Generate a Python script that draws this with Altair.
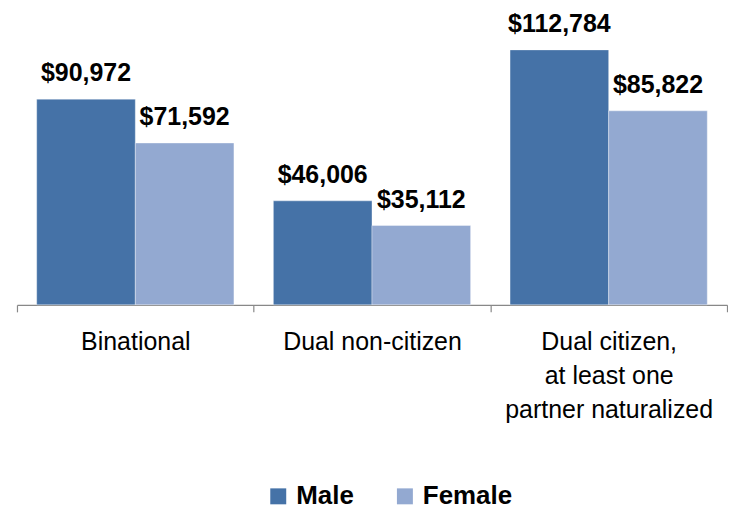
import altair as alt
import pandas as pd

categories = ["Binational", "Dual non-citizen", "Dual citizen,\nat least one\npartner naturalized"]
series = ["Male", "Female"]
male_values = [90972, 46006, 112784]
female_values = [71592, 35112, 85822]
colors = ["#4572A7", "#93A9D1"]

rows = []
for c, m, f in zip(categories, male_values, female_values):
    rows.append({"Category": c, "Sex": "Male", "Income": m})
    rows.append({"Category": c, "Sex": "Female", "Income": f})
df = pd.DataFrame(rows)

FONT = "Liberation Sans"

x = alt.X(
    "Category:N",
    sort=categories,
    scale=alt.Scale(paddingInner=0, paddingOuter=0),
    axis=alt.Axis(
        title=None,
        labelExpr="split(datum.label, '\\n')",
        labelAngle=0,
        labelLimit=0,
        labelFont=FONT,
        labelFontSize=25,
        labelColor="#000000",
        labelPadding=18,
        labelLineHeight=34,
        tickBand="extent",
        tickSize=7,
        tickColor="#888888",
        domainColor="#888888",
        domainWidth=1.2,
        tickWidth=1.2,
    ),
)
xoff = alt.XOffset("Sex:N", sort=series, scale=alt.Scale(paddingInner=0, paddingOuter=0.2))
y = alt.Y("Income:Q", scale=alt.Scale(domain=[0, 131000]), axis=None)

bars = alt.Chart(df).mark_bar(stroke="#FFFFFF", strokeWidth=0.6, strokeOpacity=0.6).encode(
    x=x,
    xOffset=xoff,
    y=y,
    color=alt.Color(
        "Sex:N",
        sort=series,
        scale=alt.Scale(domain=series, range=colors),
        legend=alt.Legend(
            title=None,
            orient="none",
            legendX=249,
            legendY=476,
            direction="horizontal",
            symbolType="square",
            symbolSize=256,
            symbolStrokeWidth=0,
            labelFont=FONT,
            labelFontSize=26,
            labelFontWeight="bold",
            labelColor="#000000",
            labelOffset=5,
            columnPadding=38,
        ),
    ),
)

labels = alt.Chart(df).mark_text(
    font=FONT, fontSize=25, fontWeight="bold", color="#000000",
    baseline="alphabetic", dy=-18, align="center"
).encode(
    x=x,
    xOffset=xoff,
    y=y,
    text=alt.Text("Income:Q", format="$,"),
)

chart = alt.layer(bars, labels).properties(
    width=712,
    height=297,
    padding={"left": 8, "top": 0, "right": 0, "bottom": 0},
).configure_view(stroke=None)

chart.save("out.html", embed_options={"renderer": "svg", "actions": False})
